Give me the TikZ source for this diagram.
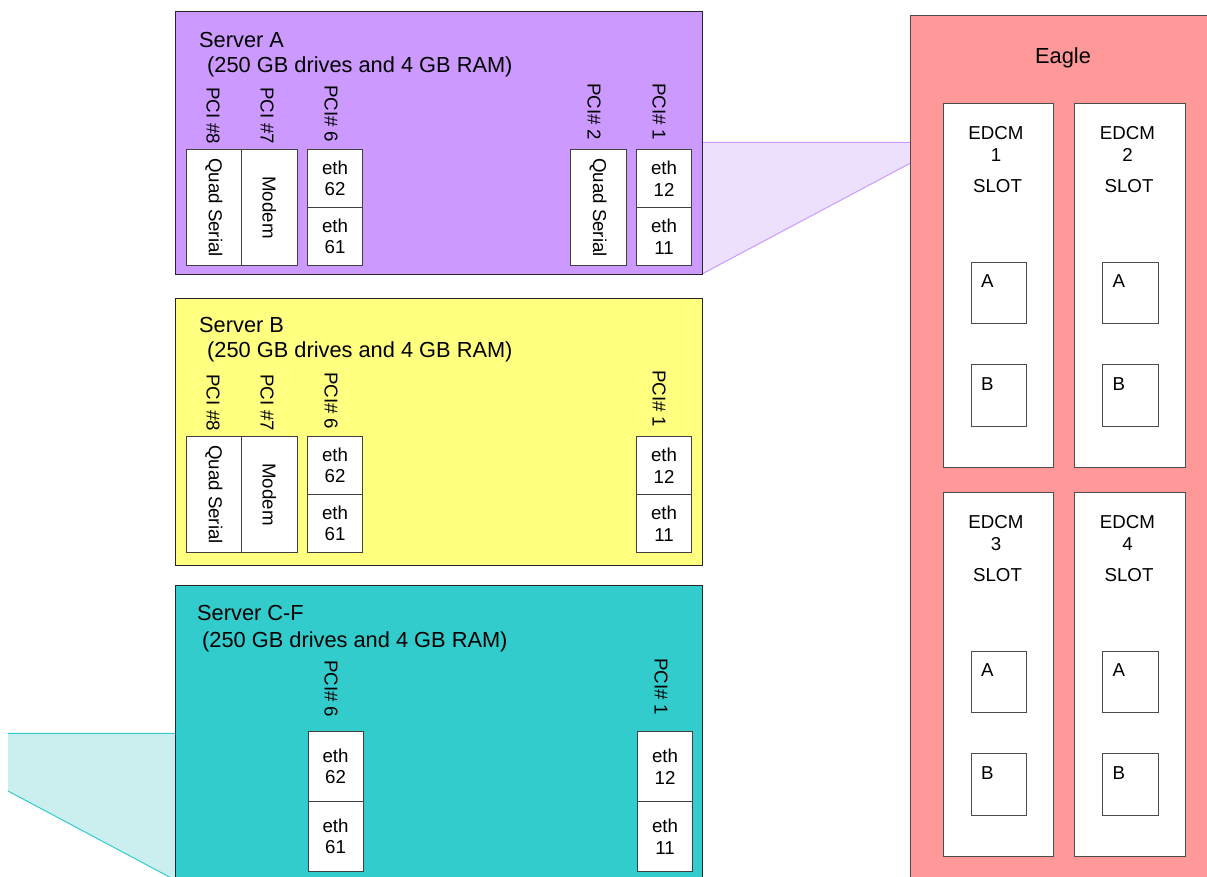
\documentclass[tikz,border=0pt]{standalone}
\usepackage{fontspec}
\setmainfont{Liberation Sans}
\definecolor{purp}{HTML}{CC99FF}
\definecolor{purpl}{HTML}{EDE0FD}
\definecolor{yel}{HTML}{FFFF80}
\definecolor{cya}{HTML}{33CCCC}
\definecolor{cyal}{HTML}{CBEFEF}
\definecolor{pink}{HTML}{FF9999}
\newcommand\titlefnt{\fontsize{21.8}{26}\selectfont}
\newcommand\smallfnt{\fontsize{18.7}{21.5}\selectfont}
\begin{document}
\begin{tikzpicture}[x=1pt,y=-1pt,
  srv/.style={draw=black!85, line width=1.1pt, inner sep=0, anchor=north west},
  card/.style={draw=black!75, fill=white, line width=1pt, inner sep=0, anchor=north west, font=\smallfnt, align=center},
  slotbox/.style={draw=black!70, fill=white, line width=1pt, inner sep=0, anchor=north west},
  ttl/.style={font=\titlefnt, anchor=base west, inner sep=0},
  lbl/.style={font=\smallfnt, inner sep=0},
  pci/.style={font=\smallfnt, inner sep=0, rotate=-90, anchor=west},
  vtxt/.style={font=\smallfnt, inner sep=0, rotate=-90}]
\clip (0,0) rectangle (1207,876);
% fans
\fill[purpl] (702,142.3) -- (912,142.3) -- (912,162.3) -- (702,274) -- cycle;
\draw[purp, line width=1pt] (702,142.3) -- (912,142.3) (912,162.3) -- (702,274);
\fill[cyal] (8,733.3) -- (177,733.3) -- (177,881) -- (8,791) -- cycle;
\draw[cya, line width=1pt] (8,733.3) -- (177,733.3) (177,881) -- (8,791);
% Eagle
\node[srv, draw=black!70, fill=pink, minimum width=320, minimum height=880] (eagle) at (910,15) {};
\node[font=\titlefnt, anchor=base, inner sep=0] (eagleT) at (1063,63.5) {Eagle};
\node[slotbox, minimum width=110, minimum height=363.5] (s1) at (943,103) {};
\node[slotbox, minimum width=110.5, minimum height=363.5] (s2) at (1074,103) {};
\node[slotbox, minimum width=110, minimum height=363.5] (s3) at (943,492) {};
\node[slotbox, minimum width=110.5, minimum height=363.5] (s4) at (1074,492) {};
\foreach \n/\cx/\yo/\x in {1/996/0/970.5, 2/1127.5/0/1102, 3/996/389/970.5, 4/1127.5/389/1102}{
  \node[lbl, anchor=base] (ed\n) at (\cx,139.5+\yo) {EDCM};
  \node[lbl, anchor=base] (num\n) at (\cx,161.5+\yo) {\n};
  \node[lbl, anchor=base] (sl\n) at (\cx+1.5,192+\yo) {SLOT};
  \node[slotbox, minimum width=55.5, minimum height=61] (pa\n) at (\x,262+\yo) {};
  \node[slotbox, minimum width=55.5, minimum height=61.5] (pb\n) at (\x,364+\yo) {};
  \node[lbl, anchor=base west] (la\n) at (\x+10.5,287+\yo) {A};
  \node[lbl, anchor=base west] (lb\n) at (\x+10.5,390+\yo) {B};
}
% Server A
\node[srv, fill=purp, minimum width=527, minimum height=263] (srvA) at (175,11) {};
\node[ttl] (tA1) at (199,47) {Server A};
\node[ttl] (tA2) at (207,72.5) {(250 GB drives and 4 GB RAM)};
\node[pci] (pA8) at (213,87) {PCI \#8};
\node[pci] (pA7) at (267,87) {PCI \#7};
\node[pci] (pA6) at (331,85) {PCI\# 6};
\node[pci] (pA2) at (594,83) {PCI\# 2};
\node[pci] (pA1) at (659,83) {PCI\# 1};
\node[card, minimum width=55, minimum height=116] (qsA8) at (186,149) {};
\node[vtxt] (qsA8t) at (qsA8.center) {Quad Serial};
\node[card, minimum width=55.5, minimum height=116] (mdA) at (241,149) {};
\node[vtxt] (mdAt) at (mdA.center) {Modem};
\node[card, minimum width=55, minimum height=58] (e62A) at (307,149) {eth\\62};
\node[card, minimum width=55, minimum height=58] (e61A) at (307,207) {eth\\61};
\node[card, minimum width=55.5, minimum height=116] (qsA2) at (570,149) {};
\node[vtxt] (qsA2t) at (qsA2.center) {Quad Serial};
\node[card, minimum width=55, minimum height=58] (e12A) at (636,149) {eth\\12};
\node[card, minimum width=55, minimum height=58] (e11A) at (636,207) {eth\\11};
% Server B
\node[srv, fill=yel, minimum width=527, minimum height=267] (srvB) at (175,298) {};
\node[ttl] (tB1) at (199,332) {Server B};
\node[ttl] (tB2) at (207,357.5) {(250 GB drives and 4 GB RAM)};
\node[pci] (pB8) at (213,374) {PCI \#8};
\node[pci] (pB7) at (267,374) {PCI \#7};
\node[pci] (pB6) at (331,372) {PCI\# 6};
\node[pci] (pB1) at (659,370) {PCI\# 1};
\node[card, minimum width=55, minimum height=116] (qsB8) at (186,436) {};
\node[vtxt] (qsB8t) at (qsB8.center) {Quad Serial};
\node[card, minimum width=55.5, minimum height=116] (mdB) at (241,436) {};
\node[vtxt] (mdBt) at (mdB.center) {Modem};
\node[card, minimum width=55, minimum height=58] (e62B) at (307,436) {eth\\62};
\node[card, minimum width=55, minimum height=58] (e61B) at (307,494) {eth\\61};
\node[card, minimum width=55, minimum height=58] (e12B) at (636,436) {eth\\12};
\node[card, minimum width=55, minimum height=58] (e11B) at (636,494) {eth\\11};
% Server C-F
\node[srv, fill=cya, minimum width=527, minimum height=320] (srvC) at (175,585) {};
\node[ttl] (tC1) at (197,620) {Server C-F};
\node[ttl] (tC2) at (202,647) {(250 GB drives and 4 GB RAM)};
\node[pci] (pC6) at (331,660) {PCI\# 6};
\node[pci] (pC1) at (661,658) {PCI\# 1};
\node[card, minimum width=55, minimum height=70] (e62C) at (307.5,731) {eth\\62};
\node[card, minimum width=55, minimum height=70] (e61C) at (307.5,801) {eth\\61};
\node[card, minimum width=55, minimum height=70] (e12C) at (637,731) {eth\\12};
\node[card, minimum width=55, minimum height=70] (e11C) at (637,801) {eth\\11};
\end{tikzpicture}
\end{document}
